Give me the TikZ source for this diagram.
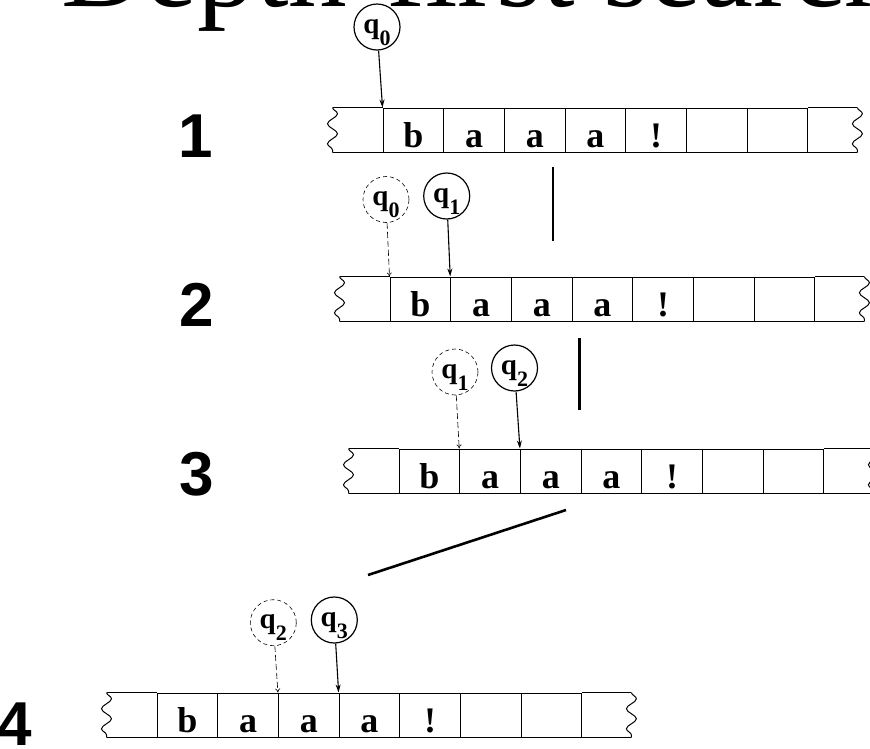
\documentclass[tikz,border=0pt]{standalone}
\usepackage{fontspec}
\setmainfont{Liberation Serif}
\setsansfont{Liberation Sans}
\usepackage{tikz}
\usetikzlibrary{arrows.meta,positioning,calc,decorations.pathmorphing}
\tikzset{
    cell/.style={rectangle, draw, line width=1pt, minimum width=60.7pt, minimum height=44pt, inner sep=0pt, text height=34pt, text depth=0pt, font=\bfseries\fontsize{36}{36}\selectfont},
    state/.style={circle, draw, line width=1.2pt, minimum size=46pt, inner sep=0pt, text height=20pt, text depth=8pt, font=\bfseries\fontsize{29}{29}\selectfont},
    ghost/.style={state, line width=0.6pt, dash pattern=on 4pt off 3pt},
    ptr/.style={-{Stealth[length=8pt,width=5pt]}, line width=1.1pt},
    ghostptr/.style={-{To[length=4pt,width=5pt]}, line width=0.6pt, dash pattern=on 6pt off 3pt},
    tapeend/.style={decorate, decoration={snake, amplitude=5pt, segment length=20pt}, line width=1pt},
    divider/.style={line width=2.6pt},
    stepno/.style={anchor=base west, inner sep=0pt, font=\sffamily\bfseries\fontsize{62}{62}\selectfont},
    headline/.style={anchor=base west, inner sep=0pt, font=\fontsize{117}{117}\selectfont},
}
\newcommand\qsub[1]{q\raisebox{-12pt}{\fontsize{22}{22}\selectfont #1}}

\begin{document}
\begin{tikzpicture}[x=1pt, y=-1pt]
    \useasboundingbox (0,0) rectangle (870,748);
    \clip (0,0) rectangle (870,748);
    \node[headline] (ttl) at (61,6) {Depth-first search};

    \foreach \t/\x/\y in {1/383/108, 2/390/277, 3/399/449, 4/157/693} {
        \foreach \j/\s in {1/b, 2/a, 3/a, 4/a, 5/!, 6/{}, 7/{}} {
            \node[cell] (t\t-\j) at ({\x+(\j-0.5)*60.7}, {\y+22}) {\s};
        }
        \coordinate (t\t-lt) at ($(t\t-1.north west)+(-50,0)$);
        \coordinate (t\t-lb) at ($(t\t-1.south west)+(-50,0)$);
        \coordinate (t\t-rt) at ($(t\t-7.north east)+(49,0)$);
        \coordinate (t\t-rb) at ($(t\t-7.south east)+(49,0)$);
        \draw[line width=1pt] (t\t-1.north west) -- (t\t-lt) (t\t-lb) -- (t\t-1.south west);
        \draw[line width=1pt] (t\t-7.north east) -- (t\t-rt) (t\t-rb) -- (t\t-7.south east);
        \draw[tapeend] (t\t-lt) -- (t\t-lb);
        \draw[tapeend] (t\t-rt) -- (t\t-rb);
    }

    \node[stepno] (n1) at (178,157) {1};
    \node[stepno] (n2) at (179,326) {2};
    \node[stepno] (n3) at (179,495) {3};
    \node[stepno] (n4) at (-3,745) {4};

    \node[state] (a0) at (377,27) {\qsub0};
    \node[ghost] (b0) at (386,199.5) {\qsub0};
    \node[state] (b1) at (446.7,196) {\qsub1};
    \node[ghost] (c1) at (455,372) {\qsub1};
    \node[state] (c2) at (514.5,368) {\qsub2};
    \node[ghost] (d2) at (273.3,622.7) {\qsub2};
    \node[state] (d3) at (334.3,620) {\qsub3};

    \draw[ptr] (a0) -- (t1-1.north west);
    \draw[ghostptr] (b0) -- (t2-1.north west);
    \draw[ptr] (b1) -- (t2-2.north west);
    \draw[ghostptr] (c1) -- (t3-2.north west);
    \draw[ptr] (c2) -- (t3-3.north west);
    \draw[ghostptr] (d2) -- (t4-3.north west);
    \draw[ptr] (d3) -- (t4-4.north west);

    \draw[divider] (553,167) -- (553,241);
    \draw[divider] (579.5,338) -- (579.5,410);
    \draw[divider] (566,510) -- (368,575);
\end{tikzpicture}
\end{document}
